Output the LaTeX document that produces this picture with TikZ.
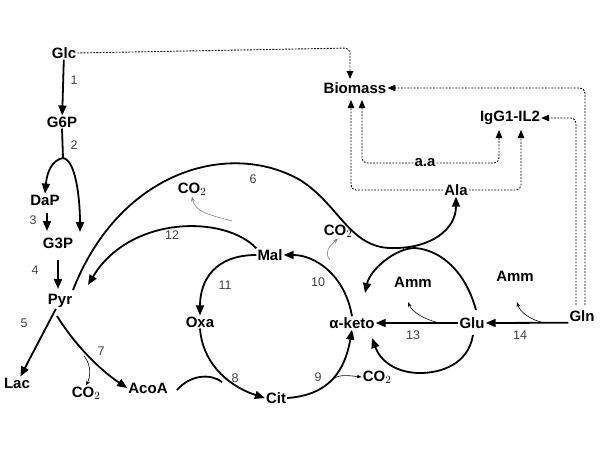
\documentclass[tikz,border=0pt]{standalone}
\usepackage{fontspec}
\setmainfont{Liberation Sans}
\usetikzlibrary{arrows.meta}
\begin{document}
\begin{tikzpicture}[x=1pt,y=-1pt,
  met/.style={font=\bfseries\fontsize{15}{17}\selectfont,inner sep=1pt},
  num/.style={font=\fontsize{12.5}{14}\selectfont,text=black!75},
  rx/.style={line width=1.8pt,-{Triangle[length=10pt,width=8pt]}},
  thin/.style={line width=0.6pt,-{Stealth[length=5pt]}},
  dot/.style={line width=0.9pt,dash pattern=on 1.8pt off 1.4pt,-{Triangle[length=8pt,width=6.5pt]},rounded corners=5pt}]
\useasboundingbox (0,0) rectangle (600,450);
\node[met] (glc) at (64,53) {Glc};
\node[met] (g6p) at (62,122) {G6P};
\node[met] (dap) at (45,200) {DaP};
\node[met] (g3p) at (58,243) {G3P};
\node[met] (pyr) at (60,301) {Pyr};
\node[met] (lac) at (17,383) {Lac};
\node[met] (co2a) at (86,393) {CO$_2$};
\node[met] (acoa) at (148,388) {AcoA};
\node[met] (cit) at (276,398) {Cit};
\node[met] (oxa) at (200,322) {Oxa};
\node[met] (mal) at (270,255) {Mal};
\node[met] (co2b) at (192,189) {CO$_2$};
\node[met] (ak) at (352,323) {α-keto};
\node[met] (co2c) at (338,231) {CO$_2$};
\node[met] (co2d) at (377,377) {CO$_2$};
\node[met] (glu) at (472,323) {Glu};
\node[met] (gln) at (582,316) {Gln};
\node[met] (amm1) at (413,282) {Amm};
\node[met] (amm2) at (515,276) {Amm};
\node[met] (ala) at (456,190) {Ala};
\node[met] (aa) at (425,163) {a.a};
\node[met] (bio) at (355,88) {Biomass};
\node[met] (igg) at (510,118) {IgG1-IL2};
\foreach \t/\x/\y in {1/74/80,2/74/145,3/33/220,4/35/270,5/24/323,6/253/179,7/101/351,8/235/378,9/318/377,10/318/282,11/225/285,12/172/235,13/413/335,14/520/335}
  \node[num] (n\t) at (\x,\y) {\t};
% reactions
\draw[rx] (glc) -- (g6p);
\draw[line width=1.8pt] (g6p.south) -- (63,158) coordinate (br2);
\draw[rx] (br2) .. controls (52,160) and (47,172) .. (dap.north);
\draw[rx] (br2) .. controls (76,160) and (80,200) .. (80,232);
\draw[rx] (47,213) -- (47,231);
\draw[rx] (58,260) -- (58,289);
\draw[rx] (pyr) -- (lac);
\draw[rx] (57,316) .. controls (75,345) and (100,370) .. (acoa.west);
\draw[thin] (84,356) .. controls (92,365) and (90,378) .. (co2a.north);
\draw[rx] (73,290) .. controls (120,170) and (230,140) .. (300,180) .. controls (340,205) and (350,250) .. (395,248) .. controls (430,248) and (456,230) .. (ala.south);
\draw[rx] (mal.north west) .. controls (225,215) and (130,215) .. (88,285);
\draw[thin,draw=gray] (232,221) .. controls (210,215) and (195,212) .. (co2b.south);
\draw[rx] (mal.west) .. controls (215,255) and (200,280) .. (oxa.north);
\draw[rx] (oxa.south) .. controls (202,360) and (225,385) .. (cit.west);
\draw[line width=1.8pt] (177,390) .. controls (190,375) and (210,373) .. (222,382);
\draw[rx] (cit.east) .. controls (330,395) and (345,370) .. (ak.south);
\draw[thin] (333,379) .. controls (338,375) and (345,375) .. (co2d.west);
\draw[rx] (ak.north) .. controls (345,275) and (315,255) .. (mal.east);
\draw[thin,draw=gray] (330,260) .. controls (326,255) and (325,250) .. (co2c.south);
\draw[rx] (glu.west) -- (ak.east);
\draw[thin] (440,323) .. controls (425,320) and (412,312) .. (408,302);
\draw[rx] (gln.south west) -- (glu.east);
\draw[thin] (545,323) .. controls (530,320) and (520,312) .. (517,302);
\draw[rx] (476,310) .. controls (465,270) and (440,250) .. (415,248) .. controls (395,248) and (370,270) .. (365,293);
\draw[rx] (473,335) .. controls (468,365) and (440,373) .. (420,373) .. controls (395,373) and (380,360) .. (372,338);
% dotted
\draw[dot] (glc.east) -- (350,48) -- (350,79);
\draw[dot] (585,305) -- (585,88) -- (bio.east);
\draw[dot] (576,305) -- (576,118) -- (igg.east);
\draw[dot] (aa.west) -- (362,163) -- (362,100);
\draw[dot] (aa.east) -- (499,163) -- (499,130);
\draw[dot] (ala.west) -- (351,190) -- (351,100);
\draw[dot] (ala.east) -- (521,190) -- (521,130);
\end{tikzpicture}
\end{document}
